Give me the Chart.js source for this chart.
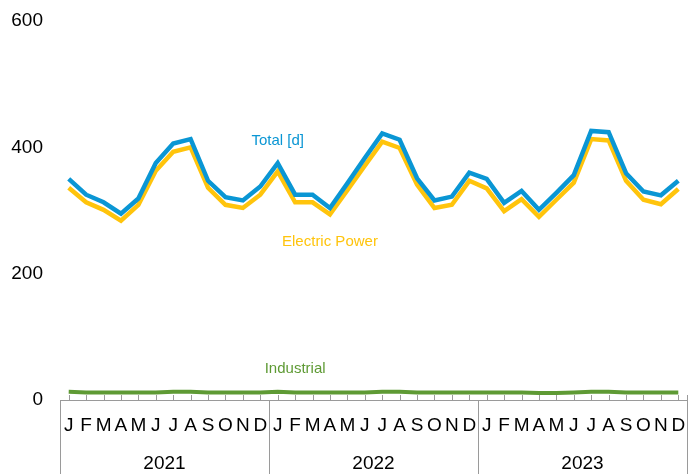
<!DOCTYPE html>
<html>
<head>
<meta charset="utf-8">
<script src="https://cdn.jsdelivr.net/npm/chart.js@4.4.1/dist/chart.umd.min.js"></script>
<style>
  html, body { margin: 0; padding: 0; background: #fff; }
  #wrap { width: 696px; height: 474px; }
</style>
</head>
<body>
<div id="wrap"><canvas id="c" width="696" height="474"></canvas></div>
<script>
const months = ['J','F','M','A','M','J','J','A','S','O','N','D'];
const years = ['2021','2022','2023'];
const categories = years.flatMap(() => months);

const total2021 = [350,325,313,295,319,375,406,413,347,321,316,338];
const total2022 = [375,325,325,304,343,383,422,412,351,316,322,360];
const total2023 = [350,312,331,301,328,356,426,424,359,330,324,347];

const electric2021 = [336,313,301,284,309,363,393,400,336,309,304,325];
const electric2022 = [362,313,313,294,332,371,409,399,341,304,309,347];
const electric2023 = [335,299,318,290,317,344,413,411,347,317,310,334];

const industrial2021 = [13,12,12,12,12,12,13,13,12,12,12,12];
const industrial2022 = [13,12,12,12,12,12,13,13,12,12,12,12];
const industrial2023 = [12,12,12,11,11,12,13,13,12,12,12,12];

const yTicks = [0,200,400,600];

// series name labels anchored in data coordinates (category index, value)
const seriesLabels = [
  { text: 'Total [d]', index: 12, value: 410, color: '#0a96d4' },
  { text: 'Electric Power', index: 15, value: 251, color: '#ffc40c' },
  { text: 'Industrial', index: 13, value: 49, color: '#5e9a34' }
];

const FONT = "'Liberation Sans', Arial, Helvetica, sans-serif";
const AXIS_GRAY = '#9a9a9a';

const decorPlugin = {
  id: 'decor',
  afterDraw(chart) {
    const ctx = chart.ctx;
    const x = chart.scales.x;
    const y = chart.scales.y;
    const bottom = chart.chartArea.bottom;
    const H = chart.height;
    ctx.save();
    ctx.strokeStyle = AXIS_GRAY;
    ctx.lineWidth = 1;
    // small upward tick marks at each category
    ctx.beginPath();
    for (let i = 0; i < categories.length; i++) {
      const px = Math.round(x.getPixelForValue(i)) + 0.5;
      ctx.moveTo(px, bottom - 5);
      ctx.lineTo(px, bottom);
    }
    ctx.stroke();
    // year separators
    ctx.beginPath();
    const seps = [x.left];
    for (let k = 1; k < years.length; k++) {
      const i = k * months.length;
      seps.push((x.getPixelForValue(i - 1) + x.getPixelForValue(i)) / 2);
    }
    seps.push(x.right);
    seps.forEach((sx, j) => {
      const px = Math.round(sx) + 0.5;
      ctx.moveTo(px, j === seps.length - 1 ? bottom - 5 : bottom);
      ctx.lineTo(px, H);
    });
    ctx.stroke();
    // series labels
    ctx.font = '15px ' + FONT;
    ctx.textAlign = 'center';
    ctx.textBaseline = 'middle';
    seriesLabels.forEach(l => {
      ctx.fillStyle = l.color;
      ctx.fillText(l.text, x.getPixelForValue(l.index), y.getPixelForValue(l.value));
    });
    ctx.restore();
  }
};

const noPad = s => { s.paddingTop = 0; s.paddingBottom = 0; s.paddingLeft = 0; s.paddingRight = 0; };

new Chart(document.getElementById('c'), {
  type: 'line',
  data: {
    labels: categories,
    datasets: [
      { label: 'Total [d]', data: [...total2021, ...total2022, ...total2023],
        borderColor: '#0a96d4', borderWidth: 4.5, pointRadius: 0, tension: 0, xAxisID: 'x' },
      { label: 'Electric Power', data: [...electric2021, ...electric2022, ...electric2023],
        borderColor: '#ffc40c', borderWidth: 4.5, pointRadius: 0, tension: 0, xAxisID: 'x' },
      { label: 'Industrial', data: [...industrial2021, ...industrial2022, ...industrial2023],
        borderColor: '#5e9a34', borderWidth: 4, pointRadius: 0, tension: 0, xAxisID: 'x' }
    ]
  },
  options: {
    responsive: false,
    animation: false,
    devicePixelRatio: 1,
    layout: { padding: { top: 21, right: 9, left: 0, bottom: 0 } },
    plugins: { legend: { display: false }, tooltip: { enabled: false } },
    scales: {
      x: {
        type: 'category',
        offset: true,
        grid: { display: false, drawTicks: false },
        border: { display: true, color: AXIS_GRAY, width: 1 },
        ticks: { color: '#000', font: { family: FONT, size: 19 }, padding: 14,
                 autoSkip: false, maxRotation: 0, minRotation: 0 },
        afterFit: s => { noPad(s); s.height = 42; }
      },
      x2: {
        type: 'category',
        position: 'bottom',
        labels: years,
        offset: true,
        grid: { display: false, drawTicks: false },
        border: { display: false },
        ticks: { color: '#000', font: { family: FONT, size: 19 }, padding: 10,
                 autoSkip: false, maxRotation: 0, minRotation: 0 },
        afterFit: s => { noPad(s); s.height = 32; }
      },
      y: {
        min: 0, max: 600,
        afterBuildTicks: s => { s.ticks = yTicks.map(v => ({ value: v })); },
        grid: { display: false, drawTicks: false },
        border: { display: false },
        ticks: { color: '#000', font: { family: FONT, size: 19 }, padding: 17 },
        afterFit: s => { noPad(s); s.width = 60; }
      }
    }
  },
  plugins: [decorPlugin]
});
</script>
</body>
</html>
